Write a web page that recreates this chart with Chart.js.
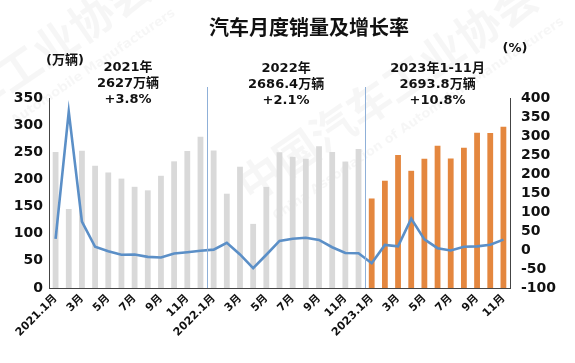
<!DOCTYPE html>
<html>
<head>
<meta charset="utf-8">
<script src="https://cdn.jsdelivr.net/npm/chart.js@4/dist/chart.umd.min.js"></script>
<style>
  html, body { margin: 0; padding: 0; background: #fff; }
  #wrap { width: 575px; height: 363px; position: relative; }
</style>
</head>
<body>
<div id="wrap"><canvas id="sales-chart" width="575" height="363"></canvas></div>
<script>
const months = [
  "2021.1月", "2月", "3月", "4月", "5月", "6月", "7月", "8月", "9月", "10月", "11月", "12月",
  "2022.1月", "2月", "3月", "4月", "5月", "6月", "7月", "8月", "9月", "10月", "11月", "12月",
  "2023.1月", "2月", "3月", "4月", "5月", "6月", "7月", "8月", "9月", "10月", "11月",
];

// monthly sales, 万辆
const sales2021 = [250.3, 145.5, 252.6, 225.2, 212.8, 201.5, 186.4, 179.9, 206.7, 233.3, 252.2, 278.6];
const sales2022 = [253.1, 173.7, 223.4, 118.1, 186.2, 250.2, 242.0, 238.3, 261.0, 250.5, 232.9, 256.1];
const sales2023 = [164.9, 197.6, 245.1, 215.9, 238.2, 262.2, 238.7, 258.2, 285.8, 285.3, 297.0];

// year-on-year growth, %
const growth = [
  29.5, 364.2, 74.9, 8.6, -3.1, -12.4, -11.9, -18.1, -19.6, -9.4, -6.0, -2.0,
  0.9, 18.7, -11.7, -47.6, -12.6, 23.8, 29.7, 32.1, 26.4, 7.3, -7.9, -8.4,
  -34.8, 13.5, 9.7, 82.7, 27.9, 4.8, -1.4, 8.4, 9.5, 13.8, 27.4,
];

const yearNotes = [
  { from: 0, to: 11, lines: ["2021年", "2627万辆", "+3.8%"], y: 68 },
  { from: 12, to: 23, lines: ["2022年", "2686.4万辆", "+2.1%"], y: 69 },
  { from: 24, to: 34, lines: ["2023年1-11月", "2693.8万辆", "+10.8%"], y: 69 },
];

const leftTicks = [0, 50, 100, 150, 200, 250, 300, 350];
const rightTicks = [-100, -50, 0, 50, 100, 150, 200, 250, 300, 350, 400];

const FONT = '"DejaVu Sans", "Noto Sans CJK SC", sans-serif';
const sales = [...sales2021, ...sales2022, ...sales2023];
const barColors = sales.map((v, i) => (i >= 24 ? "#e4873f" : "#d9d9d9"));

function watermark(ctx, x, y, big, small, dx) {
  ctx.save();
  ctx.fillStyle = "rgba(0,0,0,0.035)";
  ctx.textAlign = "center";
  ctx.textBaseline = "middle";
  ctx.translate(x, y);
  ctx.rotate(-0.6);
  ctx.font = "bold 44px " + FONT;
  ctx.fillText(big, 0, 0);
  ctx.font = "bold 13px " + FONT;
  ctx.fillText(small, dx, 36);
  ctx.restore();
}

const decorPlugin = {
  id: "decor",
  beforeDraw(chart) {
    const { ctx } = chart;
    ctx.save();
    ctx.fillStyle = "#ffffff";
    ctx.fillRect(0, 0, chart.width, chart.height);
    ctx.restore();
    watermark(ctx, 390, 95, "中国汽车工业协会", "China Association of Automobile Manufacturers", 10);
    watermark(ctx, 40, 60, "汽车工业协会", "Automobile Manufacturers", 40);
  },
  afterDraw(chart) {
    const { ctx } = chart;
    const x = chart.scales.x;
    const bottom = chart.chartArea.bottom;
    ctx.save();
    // year separators
    ctx.strokeStyle = "#8fb0d8";
    ctx.lineWidth = 1;
    [11, 23].forEach((i) => {
      const px = Math.round((x.getPixelForValue(i) + x.getPixelForValue(i + 1)) / 2) + 0.5;
      ctx.beginPath();
      ctx.moveTo(px, 87);
      ctx.lineTo(px, bottom);
      ctx.stroke();
    });

    ctx.fillStyle = "#111";
    ctx.textAlign = "center";
    ctx.textBaseline = "middle";
    ctx.font = "bold 20px " + FONT;
    ctx.fillText("汽车月度销量及增长率", 309, 30);

    ctx.font = "bold 13px " + FONT;
    ctx.fillText("(万辆)", 65, 61);
    ctx.fillText("(%)", 515, 49);

    yearNotes.forEach((note) => {
      const cx = (x.getPixelForValue(note.from) + x.getPixelForValue(note.to)) / 2;
      note.lines.forEach((line, k) => {
        ctx.fillText(line, cx, note.y + k * 16);
      });
    });
    ctx.restore();
  },
};

const ctx = document.getElementById("sales-chart").getContext("2d");
new Chart(ctx, {
  data: {
    labels: months,
    datasets: [
      {
        type: "line",
        label: "增长率",
        data: growth,
        yAxisID: "y1",
        borderColor: "#5b8fc7",
        borderWidth: 2.6,
        pointRadius: 0,
        tension: 0,
        order: 0,
      },
      {
        type: "bar",
        label: "销量",
        data: sales,
        yAxisID: "y",
        backgroundColor: barColors,
        barPercentage: 0.44,
        categoryPercentage: 1,
        order: 1,
      },
    ],
  },
  options: {
    responsive: false,
    animation: false,
    layout: { padding: { top: 98, left: 0, right: 0, bottom: 0 } },
    plugins: {
      legend: { display: false },
      tooltip: { enabled: false },
    },
    scales: {
      x: {
        offset: true,
        grid: { display: false, drawTicks: false },
        border: { color: "#444", width: 1 },
        ticks: {
          autoSkip: false,
          maxRotation: 45,
          minRotation: 45,
          padding: 4,
          color: "#111",
          font: { family: FONT, size: 11, weight: "bold" },
          callback: (value, index) => (index % 2 === 0 ? months[index] : ""),
        },
        afterFit: (scale) => { scale.height = 75; },
      },
      y: {
        position: "left",
        min: 0,
        max: 350,
        afterBuildTicks: (scale) => { scale.ticks = leftTicks.map((v) => ({ value: v })); },
        grid: { display: false, drawTicks: false },
        border: { color: "#444", width: 1 },
        ticks: {
          autoSkip: false,
          padding: 6,
          color: "#111",
          font: { family: FONT, size: 14, weight: "bold" },
        },
        afterFit: (scale) => { scale.width = 49; },
      },
      y1: {
        position: "right",
        min: -100,
        max: 400,
        afterBuildTicks: (scale) => { scale.ticks = rightTicks.map((v) => ({ value: v })); },
        grid: { display: false, drawTicks: false },
        border: { color: "#444", width: 1 },
        ticks: {
          autoSkip: false,
          padding: 11,
          color: "#111",
          font: { family: FONT, size: 14, weight: "bold" },
        },
        afterFit: (scale) => { scale.width = 65; },
      },
    },
  },
  plugins: [decorPlugin],
});
</script>
</body>
</html>
